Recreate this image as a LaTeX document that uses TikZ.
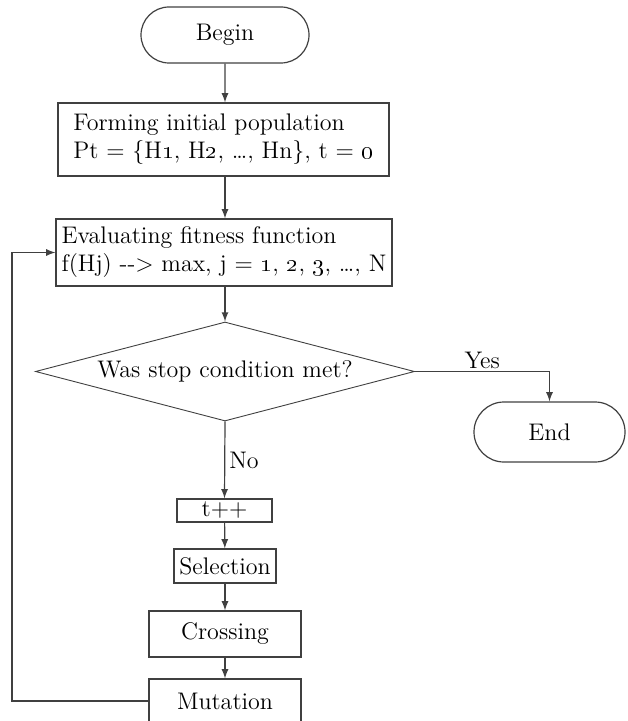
\documentclass[tikz,border=0pt]{standalone}
\usetikzlibrary{shapes.geometric,shapes.misc}
\definecolor{linegray}{HTML}{404040}
\begin{document}
\begin{tikzpicture}[x=0.5pt,y=-0.5pt,
    font=\fontsize{12}{14}\selectfont,
    every node/.style={inner sep=0pt},
    terminal/.style={draw=linegray,line width=0.6pt,rounded rectangle},
    stepbox/.style={draw=linegray,line width=0.6pt,rectangle},
    decision/.style={draw=linegray,line width=0.45pt,diamond,aspect=3.83},
    flow/.style={draw=linegray,line width=0.6pt,-latex}]
    \useasboundingbox (0,0) rectangle (627,721);
    \node[terminal,minimum width=84pt,minimum height=28pt] (begin) at (225,35) {Begin};
    \node[stepbox,minimum width=165.5pt,minimum height=36.5pt,align=left] (form) at (223.5,139.5)
      {Forming initial population\\Pt = \{H\oldstylenums{1}, H\oldstylenums{2}, \dots, Hn\}, t = \oldstylenums{0}};
    \node[stepbox,minimum width=168pt,minimum height=33.5pt,align=left] (eval) at (224,252.5)
      {Evaluating fitness function\\f(Hj) -{}-> max, j = \oldstylenums{1}, \oldstylenums{2}, \oldstylenums{3}, \dots, N};
    \node[decision,minimum width=189.5pt,minimum height=49.5pt] (cond) at (225,371.5) {Was stop condition met?};
    \node[terminal,minimum width=75.5pt,minimum height=30pt] (endn) at (549.5,432) {End};
    \node[stepbox,minimum width=47.5pt,minimum height=11.5pt] (tpp) at (224.5,510.5) {t++};
    \node[stepbox,minimum width=51pt,minimum height=17pt] (sel) at (225,566) {Selection};
    \node[stepbox,minimum width=76pt,minimum height=23pt] (cross) at (225,634) {Crossing};
    \node[stepbox,minimum width=76pt,minimum height=22pt] (mut) at (225,701) {Mutation};
    \coordinate (loop) at (12,701);
    % main line
    \draw[flow] (begin) -- (begin |- form.north);
    \draw[flow] (begin |- form.south) -- (begin |- eval.north);
    \draw[flow] (eval.south -| cond) -- (cond.north);
    \draw[flow] (cond.east) -| node[above,pos=0.25,yshift=1pt] {Yes} (endn.north);
    \draw[flow] (cond.south) -- node[right,xshift=2pt] {No} (tpp.north);
    \draw[flow] (tpp) -- (sel);
    \draw[flow] (sel) -- (cross);
    \draw[flow] (cross) -- (mut);
    % back to evaluation
    \draw[flow] (mut.west) -- (loop) |- (eval.west);
  \end{tikzpicture}
\end{document}
